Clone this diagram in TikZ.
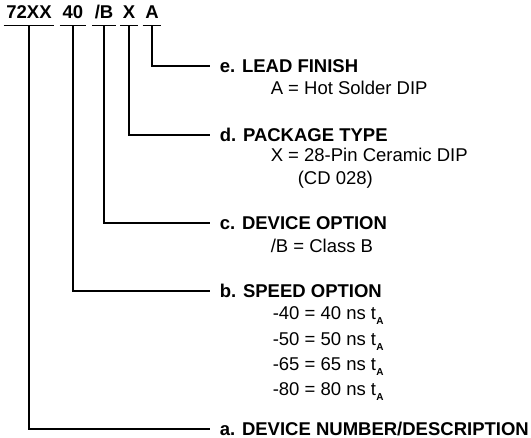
\documentclass[tikz,border=0pt]{standalone}
\usepackage{fontspec}
\setmainfont{Liberation Sans}
\usetikzlibrary{positioning}
\newcommand{\tsubA}{t\kern0.3pt\raisebox{-4.5pt}{\fontsize{10}{10}\selectfont\bfseries A}}

\begin{document}
\begin{tikzpicture}[x=1pt,y=-1pt,line width=1.5pt,
code/.style={font=\fontsize{18.5}{22}\selectfont\bfseries,inner xsep=2pt,inner ysep=0pt,text height=13pt,text depth=6pt,anchor=base},
head/.style={font=\fontsize{18.5}{22}\selectfont\bfseries,inner xsep=9pt,inner ysep=0pt,text height=13pt,text depth=0pt,anchor=base west},
opt/.style={font=\fontsize{18.5}{22}\selectfont,inner sep=0pt,anchor=base west},
lead/.style={line join=miter}]
\useasboundingbox (0,0) rectangle (531,438);
% part number fields
\node[code] (c72) at (29,19) {72XX};
\node[code] (c40) at (73,19) {40};
\node[code] (cB) at (104,19) {/B};
\node[code] (cX) at (129,19) {X};
\node[code] (cA) at (152,19) {A};
\foreach \f in {c72,c40,cB,cX,cA}
  \draw (\f.south west) -- (\f.south east);
% headings
\node[head] (e) at (210,72.5) {e. LEAD FINISH};
\node[head] (d) at (210,141.5) {d. PACKAGE TYPE};
\node[head] (c) at (210,229.5) {c. DEVICE OPTION};
\node[head] (b) at (210,297.5) {b. SPEED OPTION};
\node[head] (a) at (210,435.5) {a. DEVICE NUMBER/DESCRIPTION};
% options
\node[opt] (eA) at (270,95) {A = Hot Solder DIP};
\node[opt] (dX) at (270,162) {X = 28-Pin Ceramic DIP};
\node[opt] (dCD) at (297,185) {(CD 028)};
\node[opt] (cB1) at (270,253) {/B = Class B};
\foreach \s/\y in {40/320,50/346,65/371,80/396}
  \node[opt] (b\s) at (272,\y) {-\s{} = \s{} ns \tsubA};
% leaders
\draw[lead] (cA.south) |- (e.west);
\draw[lead] (cX.south) |- (d.west);
\draw[lead] (cB.south) |- (c.west);
\draw[lead] (c40.south) |- (b.west);
\draw[lead] (c72.south) |- (a.west);
\end{tikzpicture}
\end{document}
